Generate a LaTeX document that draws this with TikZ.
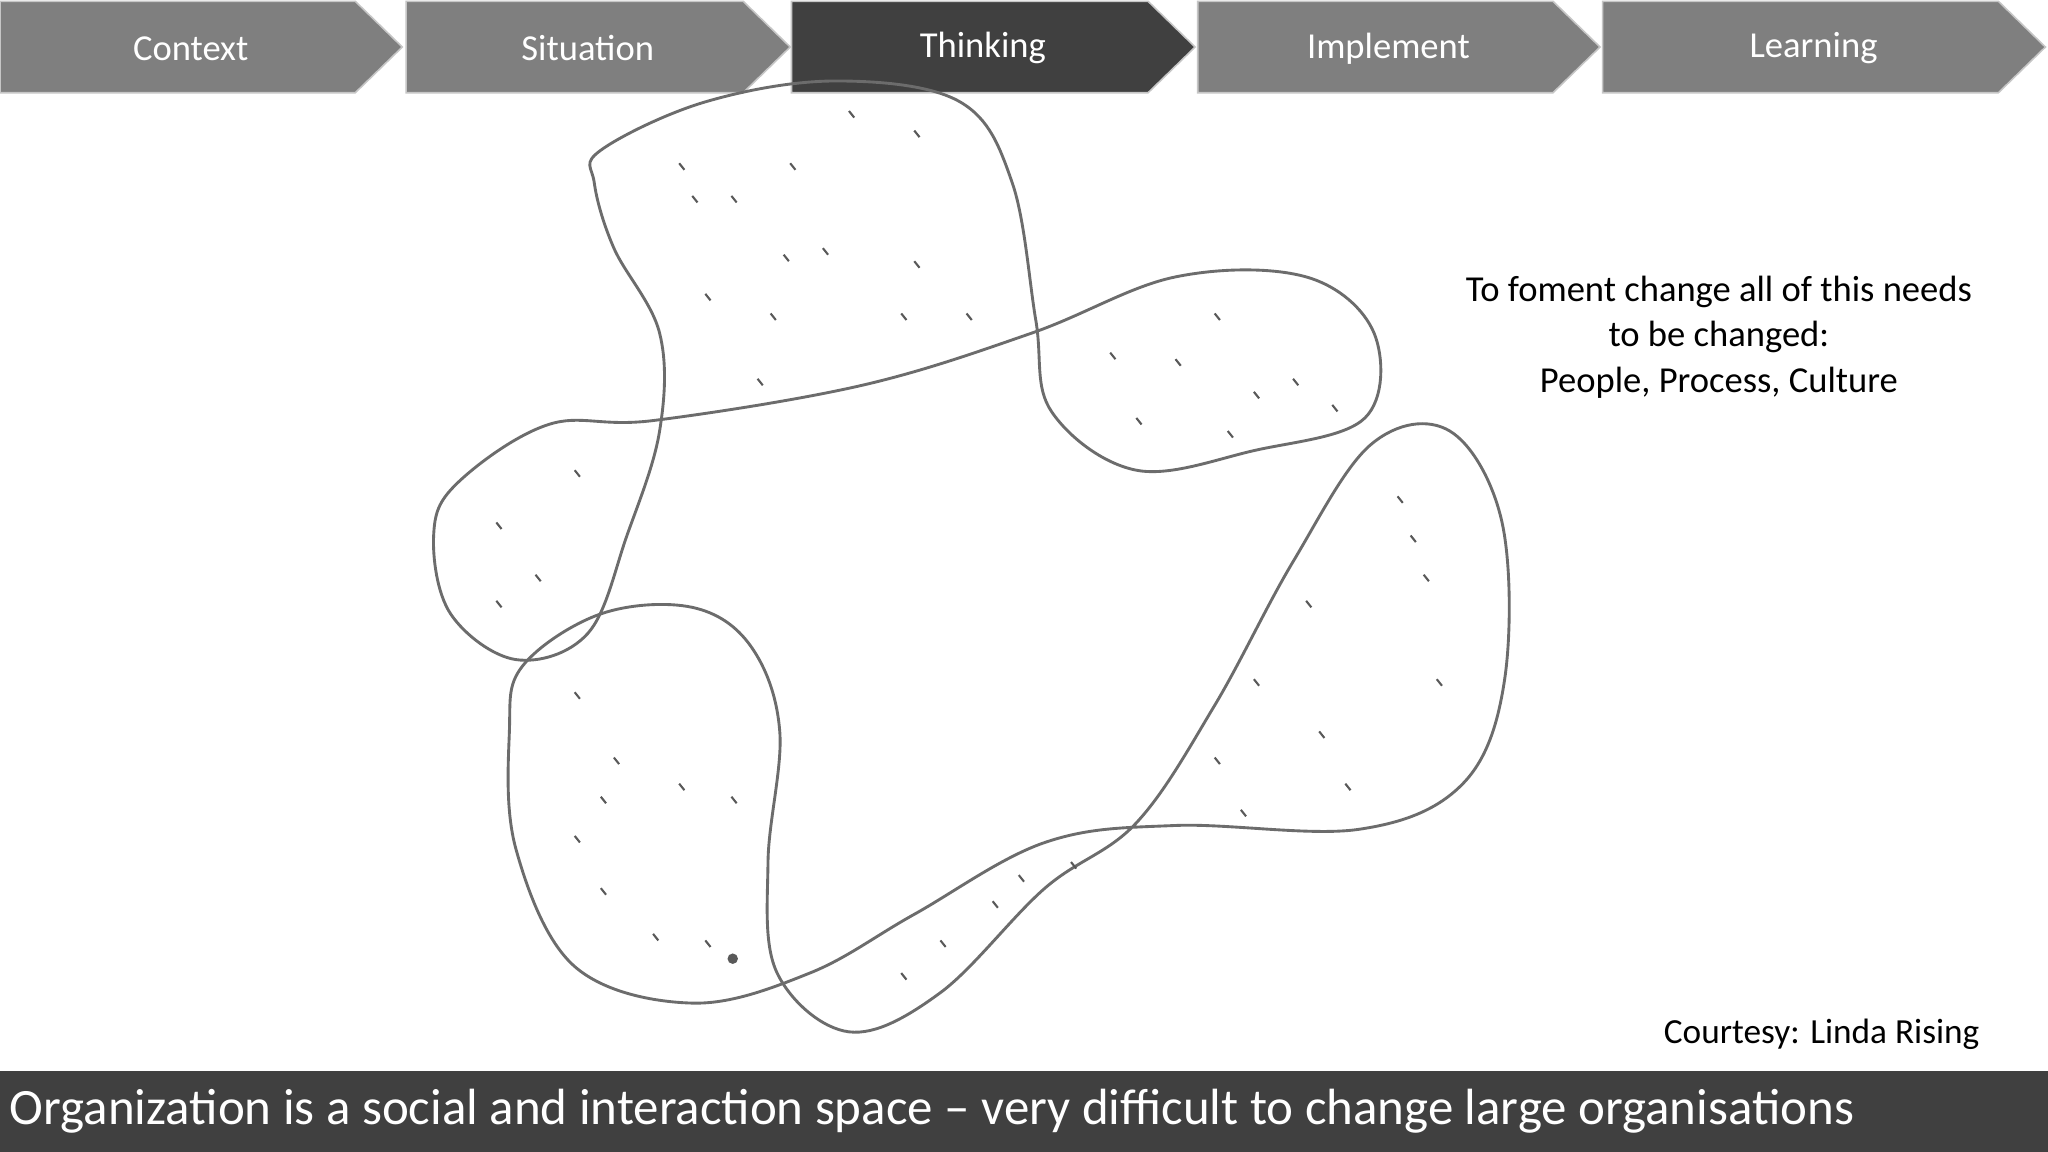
\documentclass[tikz,border=0pt]{standalone}
\usepackage{fontspec}
\setmainfont{Carlito}
\definecolor{chev}{HTML}{7F7F7F}
\definecolor{dark}{HTML}{404040}
\begin{document}
\begin{tikzpicture}[x=1pt,y=-1pt,
  chevbox/.style={fill=chev,draw=gray!45,line width=1.2pt},
  chevtxt/.style={text=white,font=\fontsize{28}{32}\selectfont},
  blob/.style={draw=gray!85!black,line width=2.2pt}]
\useasboundingbox (0,0) rectangle (1568,882);
\fill[white] (0,0) rectangle (1568,882);
\foreach \x/\w/\c/\t/\n in {0/308/chev/Context/c1,311/294/chev/Situation/c2,606/309/dark/Thinking/c3,917/308/chev/Implement/c4,1227/339/chev/Learning/c5}{
  \path[chevbox,fill=\c] (\x,1) -- (\x+\w-36,1) -- (\x+\w,36) -- (\x+\w-36,71) -- (\x,71) -- cycle;
  \node[chevtxt] (\n) at (\x+\w/2-8,37) {\t};
}
\draw[blob] plot[smooth cycle,tension=0.6] coordinates {(460,115)(540,78)(640,62)(735,78)(775,140)(793,245)(805,315)(870,360)(960,345)(1045,320)(1052,255)(1000,212)(900,212)(790,255)(660,295)(500,322)(420,325)(350,370)(332,410)(345,470)(395,505)(450,485)(480,410)(505,330)(505,255)(470,190)(455,140)};
\draw[blob] plot[smooth cycle,tension=0.6] coordinates {(400,510)(460,470)(530,465)(575,495)(597,560)(588,660)(595,745)(650,790)(720,760)(800,680)(870,630)(930,540)(990,430)(1050,340)(1110,330)(1150,400)(1152,520)(1120,600)(1040,635)(900,632)(800,645)(700,700)(620,745)(530,768)(440,740)(395,650)(390,560)};
\foreach \p in {(520,125),(560,150),(605,125),(650,85),(700,100),(540,225),(600,195),(630,190),(690,240),(740,240),(580,290),(850,270),(900,275),(930,240),(990,290),(1020,310),(870,320),(380,400),(410,440),(380,460),(440,360),(440,530),(470,580),(520,600),(560,610),(460,680),(500,715),(780,670),(720,720),(690,745),(1070,380),(1090,440),(1100,520),(1000,460),(960,520),(930,580),(1030,600),(530,150),(590,240),(700,200),(960,300),(940,330),(1080,410),(1010,560),(950,620),(760,690),(820,660),(460,610),(440,640),(540,720)}
  \draw[line width=1.6pt,gray!70!black] \p -- ++(4,5);
\fill[gray!70!black] (561,734) circle (4);
\node[font=\fontsize{28}{35}\selectfont,align=center] (note) at (1316,258) {To foment change all of this needs\\to be changed:\\People, Process, Culture};
\node[font=\fontsize{27}{30}\selectfont,anchor=east] (court) at (1519,792) {Courtesy: Linda Rising};
\fill[dark] (0,820) rectangle (1568,882);
\node[font=\fontsize{39}{42}\selectfont,text=white,anchor=west] (cap) at (4,851) {Organization is a social and interaction space -- very difficult to change large organisations};
\end{tikzpicture}
\end{document}
